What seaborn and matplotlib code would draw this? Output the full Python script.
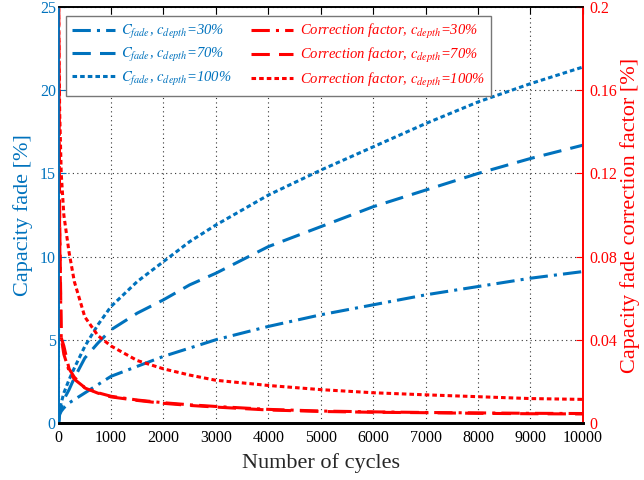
import numpy as np
import pandas as pd
import matplotlib
matplotlib.use('Agg')
import matplotlib.pyplot as plt
import seaborn as sns

cycles = [0, 20, 50, 100, 200, 300, 500, 750, 1000, 1500, 2000, 2500, 3000,
          4000, 5000, 6000, 7000, 8000, 9000, 10000]

# capacity fade [%]
fade_30 = [0, 0.5, 0.7, 0.9, 1.2, 1.4, 1.8, 2.3, 2.8, 3.4, 4.0, 4.5, 5.0,
           5.8, 6.5, 7.1, 7.7, 8.2, 8.7, 9.1]
fade_70 = [0, 0.6, 0.9, 1.4, 2.0, 2.7, 3.9, 4.8, 5.6, 6.6, 7.4, 8.3, 9.0,
           10.6, 11.8, 13.0, 14.0, 15.0, 15.9, 16.7]
fade_100 = [0, 0.8, 1.2, 1.8, 2.6, 3.3, 4.6, 5.9, 7.0, 8.5, 9.7, 10.9, 11.9,
            13.7, 15.2, 16.6, 18.0, 19.3, 20.4, 21.4]

# correction factor [%]
corr_30 = [0.2, 0.09, 0.041, 0.033, 0.025, 0.021, 0.017, 0.0145, 0.0128, 0.011,
           0.0097, 0.0087, 0.0079, 0.0065, 0.0057, 0.0053, 0.005, 0.0048, 0.0046, 0.0045]
corr_70 = [0.2, 0.1, 0.041, 0.037, 0.026, 0.022, 0.0168, 0.0143, 0.0125, 0.0108,
           0.0094, 0.0084, 0.0076, 0.0062, 0.0055, 0.0051, 0.0049, 0.0046, 0.0044, 0.0043]
corr_100 = [0.2, 0.15, 0.12, 0.1, 0.082, 0.068, 0.051, 0.042, 0.037, 0.03,
            0.026, 0.023, 0.0205, 0.018, 0.016, 0.0145, 0.0135, 0.0126, 0.0117, 0.0113]

depths = ['30%', '70%', '100%']

blue = '#0072BD'
red = '#FF0000'

sns.set_style('white')
plt.rcParams['font.family'] = ['Liberation Serif', 'DejaVu Serif']
plt.rcParams['mathtext.fontset'] = 'stix'

fig = plt.figure(figsize=(6.44, 4.8), dpi=100)
ax = fig.add_axes([0.091, 0.119, 0.814, 0.866])
ax2 = ax.twinx()

styles = [(0, (6, 2, 1, 2)), (0, (6, 3)), (0, (1.5, 1))]

df = pd.DataFrame({'cycles': cycles,
                   'f30': fade_30, 'f70': fade_70, 'f100': fade_100,
                   'c30': corr_30, 'c70': corr_70, 'c100': corr_100})

for col, d, ls in zip(['f30', 'f70', 'f100'], depths, styles):
    sns.lineplot(data=df, x='cycles', y=col, ax=ax, color=blue, lw=2.2,
                 linestyle=ls, label=r'$C_{fade}$, $c_{depth}$=' + d, legend=False)
for col, d, ls in zip(['c30', 'c70', 'c100'], depths, styles):
    sns.lineplot(data=df, x='cycles', y=col, ax=ax2, color=red, lw=2.2,
                 linestyle=ls, label=r'Correction factor, $c_{depth}$=' + d, legend=False)

ax.set_xlim(0, 10000)
ax.set_ylim(0, 25)
ax2.set_ylim(0, 0.2)
ax.set_xticks(np.arange(0, 10001, 1000))
ax.set_yticks(np.arange(0, 26, 5))
ax2.set_yticks([0, 0.04, 0.08, 0.12, 0.16, 0.2])
ax2.set_yticklabels(['0', '0.04', '0.08', '0.12', '0.16', '0.2'])

ax.grid(True, linestyle=(0, (1, 3)), color='#333333', lw=0.8)
ax.set_xlabel('Number of cycles', fontsize=16, labelpad=5)
ax.set_ylabel('Capacity fade [%]', fontsize=16, color=blue, labelpad=5)
ax2.set_ylabel('Capacity fade correction factor [%]', fontsize=16, color=red, labelpad=2)

ax.tick_params(axis='x', direction='in', top=True, labelsize=11.5, colors='black', length=5, pad=5)
ax.tick_params(axis='y', direction='in', labelsize=11.5, labelcolor=blue, color=blue, length=5, pad=2)
ax2.tick_params(axis='y', direction='in', labelsize=11.5, labelcolor=red, color=red, length=5, pad=5)
for a in (ax, ax2):
    a.spines['bottom'].set_linewidth(2)
    a.spines['bottom'].set_color('black')
    a.spines['top'].set_linewidth(1.2)
    a.spines['top'].set_color('black')
    a.spines['left'].set_color(blue)
    a.spines['right'].set_color(red)
    a.spines['left'].set_linewidth(1.2)
    a.spines['right'].set_linewidth(1.2)

h1, l1 = ax.get_legend_handles_labels()
h2, l2 = ax2.get_legend_handles_labels()
leg = ax2.legend(h1 + h2, l1 + l2, ncol=2, loc='upper left',
                 bbox_to_anchor=(0.0, 0.997), fancybox=False, framealpha=1,
                 edgecolor='#777777', prop={'style': 'italic', 'size': 10.5},
                 handlelength=2.9, columnspacing=1.3, handletextpad=0.45,
                 labelspacing=0.35, borderpad=0.45)
for i, t in enumerate(leg.get_texts()):
    t.set_color(blue if i < 3 else red)

fig.savefig('out.png', dpi=100)
